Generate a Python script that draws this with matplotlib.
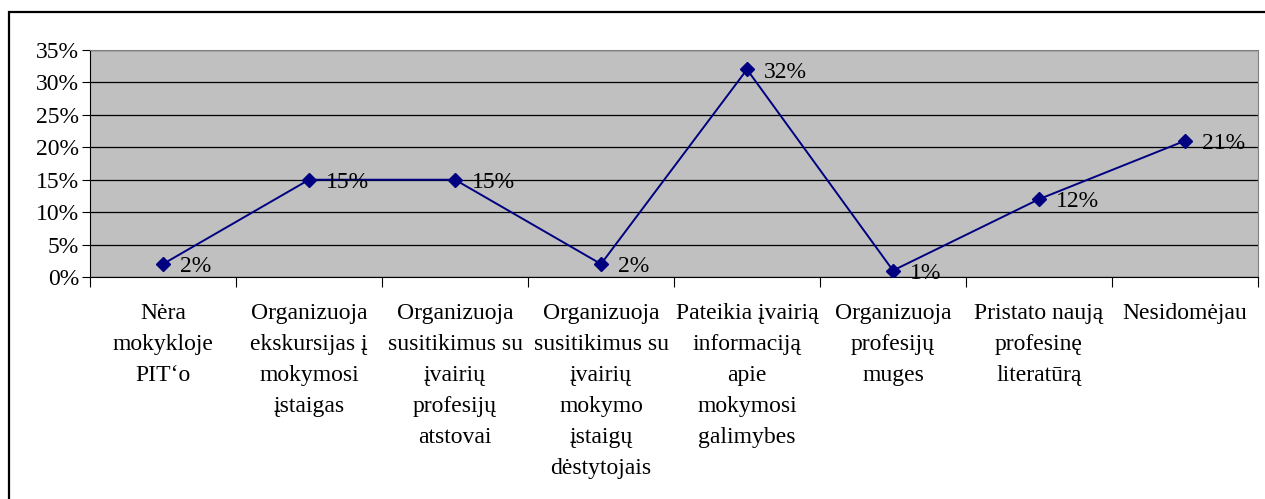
import matplotlib.pyplot as plt
from matplotlib.patches import Rectangle

plt.rcParams['font.family'] = ['Liberation Serif', 'DejaVu Serif']

# data
categories = [
    'Nėra\nmokykloje\nPIT‘o',
    'Organizuoja\nekskursijas į\nmokymosi\nįstaigas',
    'Organizuoja\nsusitikimus su\nįvairių\nprofesijų\natstovai',
    'Organizuoja\nsusitikimus su\nįvairių\nmokymo\nįstaigų\ndėstytojais',
    'Pateikia įvairią\ninformaciją\napie\nmokymosi\ngalimybes',
    'Organizuoja\nprofesijų\nmuges',
    'Pristato naują\nprofesinę\nliteratūrą',
    'Nesidomėjau',
]
values = [2, 15, 15, 2, 32, 1, 12, 21]
y_ticks = [0, 5, 10, 15, 20, 25, 30, 35]

fig = plt.figure(figsize=(12.65, 4.99), dpi=100)
ax = fig.add_axes([90 / 1265, 1 - 277 / 499, (1258 - 90) / 1265, (277 - 50) / 499])
ax.set_facecolor('#C0C0C0')

x = list(range(len(values)))
ax.plot(x, values, color='#000080', lw=1.4, marker='D', ms=7, zorder=3)
for xi, v in zip(x, values):
    ax.annotate(f'{v}%', (xi, v), xytext=(12, -2), textcoords='offset points',
                ha='left', va='center', fontsize=17, zorder=4)

ax.set_xlim(-0.5, len(values) - 0.5)
ax.set_ylim(0, 35)
ax.set_yticks(y_ticks)
ax.set_yticklabels([f'{t}%' for t in y_ticks], fontsize=17)
ax.yaxis.grid(True, color='black', lw=0.9)
ax.set_axisbelow(True)

# boundary ticks (major) and centered labels (minor)
ax.set_xticks([i - 0.5 for i in range(len(values) + 1)])
ax.set_xticklabels([])
ax.set_xticks(x, minor=True)
ax.set_xticklabels(categories, minor=True, fontsize=17, linespacing=1.62, va='top')
ax.tick_params(axis='x', which='major', length=7, direction='out', color='black')
ax.tick_params(axis='x', which='minor', length=0, pad=19)
ax.tick_params(axis='y', length=6, direction='out', pad=2)

for s in ['top', 'right']:
    ax.spines[s].set_color('#808080')
ax.spines['left'].set_color('black')
ax.spines['bottom'].set_color('black')

# outer border of the chart
fig.patches.append(Rectangle((9 / 1265, -0.1), 1.2, 1 - 12 / 499 + 0.1,
                             transform=fig.transFigure, fill=False,
                             edgecolor='black', lw=1.6))

plt.savefig('out.png', dpi=100)
